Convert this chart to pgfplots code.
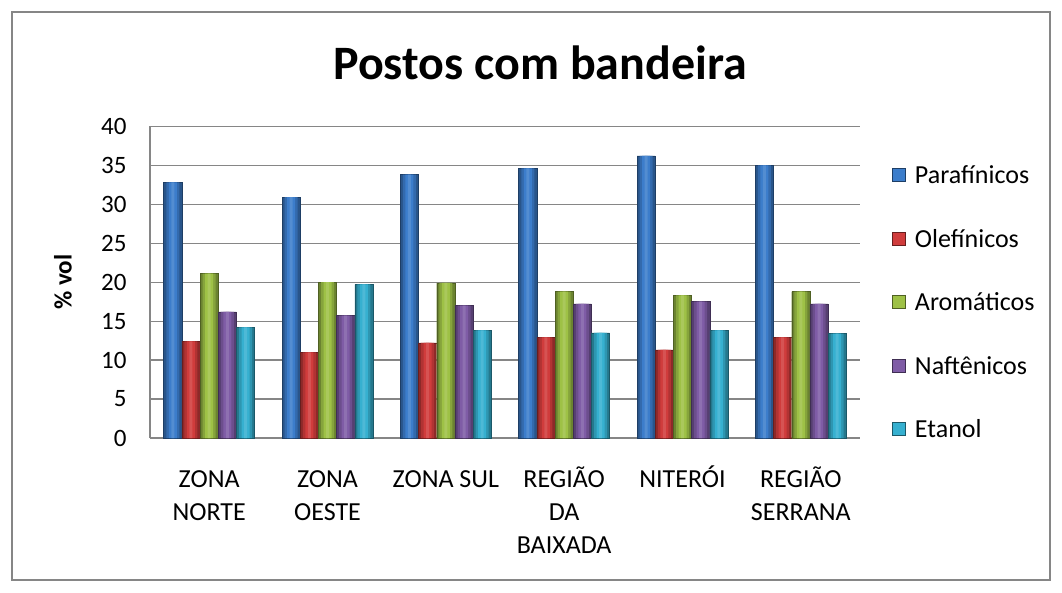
\documentclass[border=0pt]{standalone}
\usepackage{pgfplots}
\pgfplotsset{compat=1.18}
\usepackage{fontspec}
\setmainfont{Carlito}
\definecolor{cBlue}{HTML}{3C7DCB}
\definecolor{cRed}{HTML}{D03C3C}
\definecolor{cGreen}{HTML}{9EC146}
\definecolor{cPurple}{HTML}{7F5CA6}
\definecolor{cCyan}{HTML}{36B0D0}
\definecolor{gridc}{HTML}{868686}
\pgfplotstableread{
x par ole aro naf eta
0 32.8 12.4 21.1 16.2 14.2
1 30.9 11.0 20.0 15.7 19.7
2 33.8 12.2 19.9 17.0 13.8
3 34.6 12.9 18.8 17.2 13.5
4 36.2 11.3 18.3 17.5 13.8
5 35.0 12.9 18.8 17.2 13.4
}\data
\newcommand{\series}[3]{%
  \addplot[ybar, bar width=18.2pt, bar shift=#2, draw=#3!50!black, fill=#3!68!black, forget plot] table[x=x,y=#1] {\data};
  \addplot[ybar, bar width=13pt, bar shift=#2, draw=none, fill=#3!85!black, forget plot] table[x=x,y=#1] {\data};
  \addplot[ybar, bar width=8pt, bar shift=#2, draw=none, fill=#3, forget plot] table[x=x,y=#1] {\data};
  \addplot[ybar, bar width=3pt, bar shift=#2, draw=none, fill=#3!88!white, forget plot] table[x=x,y=#1] {\data};
}
\begin{document}
\begin{tikzpicture}[x=1pt,y=1pt]
\path[use as bounding box] (0,0) rectangle (1062,592);
\draw[gridc, line width=1.6pt] (12,12) rectangle (1050,580);
\node[font=\bfseries\fontsize{48}{52}\selectfont, anchor=base] at (540,512) {Postos com bandeira};
\begin{axis}[
  at={(150pt,154pt)}, anchor=south west,
  scale only axis, width=710pt, height=311.7pt,
  ymin=0, ymax=40, ytick={0,5,...,40},
  xmin=-0.5, xmax=5.5, xtick={0,...,5},
  xticklabels={{\vphantom{ÓÃ}ZONA\\NORTE},{\vphantom{ÓÃ}ZONA\\OESTE},{\vphantom{ÓÃ}ZONA SUL},{\vphantom{ÓÃ}REGIÃO\\DA\\BAIXADA},{\vphantom{ÓÃ}NITERÓI},{\vphantom{ÓÃ}REGIÃO\\SERRANA}},
  axis x line*=bottom, axis y line*=left,
  axis line style={gridc, line width=1.2pt},
  ymajorgrids, grid style={gridc, line width=1.2pt},
  major tick length=0pt,
  yticklabel style={xshift=-20pt, font=\fontsize{25}{30}\selectfont},
  /pgf/number format/assume math mode=true,
  xticklabel style={align=center, yshift=-24pt, font=\fontsize{26}{33}\selectfont},
  ylabel={\% vol},
  every axis y label/.style={at={(axis description cs:-0.1225,0.5)}, rotate=90, anchor=center, font=\bfseries\fontsize{25}{30}\selectfont},
  legend style={at={(1.04,0.435)}, anchor=west, draw=none, fill=none, row sep=40pt, font=\fontsize{26}{30}\selectfont},
  legend cell align=left,
  legend image code/.code={\path[#1] (0pt,-6pt) rectangle (13pt,7pt); \path (21pt,0pt);},
]
\series{par}{-36.4pt}{cBlue}
\series{ole}{-18.2pt}{cRed}
\series{aro}{0pt}{cGreen}
\series{naf}{18.2pt}{cPurple}
\series{eta}{36.4pt}{cCyan}
\addlegendimage{fill=cBlue, draw=cBlue!50!black}
\addlegendimage{fill=cRed, draw=cRed!50!black}
\addlegendimage{fill=cGreen, draw=cGreen!50!black}
\addlegendimage{fill=cPurple, draw=cPurple!50!black}
\addlegendimage{fill=cCyan, draw=cCyan!50!black}
\legend{Parafínicos,Olefínicos,Aromáticos,Naftênicos,Etanol}
\end{axis}
\end{tikzpicture}
\end{document}
